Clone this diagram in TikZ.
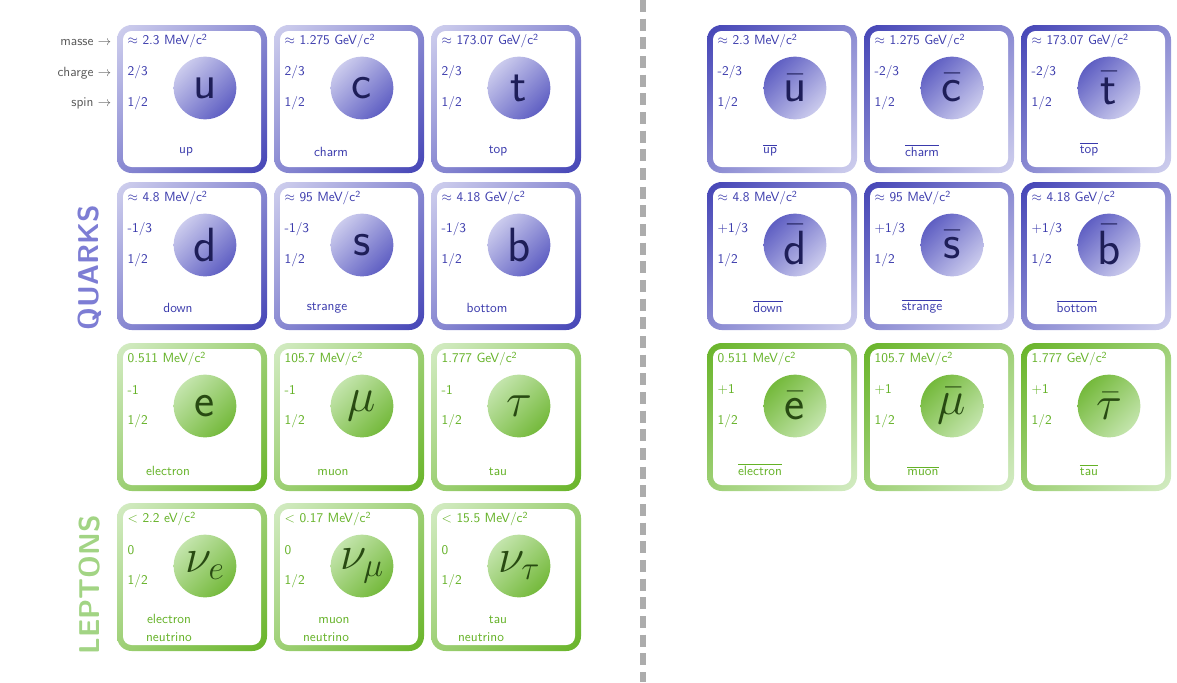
\RequirePackage{fix-cm}
\documentclass[tikz,border=0pt]{standalone}
\usetikzlibrary{shadings}

\definecolor{qlight}{RGB}{208,208,238}
\definecolor{qdark}{RGB}{68,68,182}
\colorlet{qmid}{qlight!50!qdark}
\definecolor{qtext}{RGB}{58,58,172}
\definecolor{qsym}{RGB}{30,30,88}
\definecolor{qballlight}{RGB}{226,226,246}
\definecolor{qballdark}{RGB}{72,72,186}
\colorlet{qballmid}{qballlight!50!qballdark}
\definecolor{qlabel}{RGB}{125,125,212}

\definecolor{llight}{RGB}{212,236,196}
\definecolor{ldark}{RGB}{104,180,40}
\colorlet{lmid}{llight!50!ldark}
\definecolor{ltext}{RGB}{100,178,38}
\definecolor{lsym}{RGB}{40,74,18}
\definecolor{lballlight}{RGB}{212,238,196}
\definecolor{lballdark}{RGB}{100,176,36}
\colorlet{lballmid}{lballlight!50!lballdark}
\definecolor{llabel}{RGB}{162,212,132}

\definecolor{sidegray}{RGB}{88,88,88}
\definecolor{dashgray}{RGB}{172,172,172}

\newcommand{\csq}{c\textsuperscript{2}}

% card of a particle: x, y, scheme, mass, charge, symbol, name
\newcommand{\partcard}[7]{%
  \shade[upper left=#3light, lower right=#3dark, upper right=#3mid, lower left=#3mid,
    rounded corners=11pt] (#1,#2) rectangle ++(150,148);
  \fill[white, rounded corners=6.5pt] ({#1+6},{#2+6}) rectangle ++(138,136);
  \node[anchor=west, text=#3text] (#7-mass) at ({#1+6},{#2+16}) {#4};
  \node[anchor=west, text=#3text] (#7-charge) at ({#1+6},{#2+47}) {#5};
  \node[anchor=west, text=#3text] (#7-spin) at ({#1+6},{#2+78}) {1/2};
  \node[ball, text=#3sym, upper left=#3balllight, lower right=#3balldark,
    upper right=#3ballmid, lower left=#3ballmid] (#7) at ({#1+88},{#2+63}) {#6};
}

% card of an antiparticle: same arguments, shading turned round
\newcommand{\anticard}[7]{%
  \shade[upper left=#3dark, lower right=#3light, upper right=#3mid, lower left=#3mid,
    rounded corners=11pt] (#1,#2) rectangle ++(150,148);
  \fill[white, rounded corners=6.5pt] ({#1+6},{#2+6}) rectangle ++(138,136);
  \node[anchor=west, text=#3text] (#7-mass) at ({#1+6},{#2+16}) {#4};
  \node[anchor=west, text=#3text] (#7-charge) at ({#1+6},{#2+47}) {#5};
  \node[anchor=west, text=#3text] (#7-spin) at ({#1+6},{#2+78}) {1/2};
  \node[ball, text=#3sym, upper left=#3balldark, lower right=#3balllight,
    upper right=#3ballmid, lower left=#3ballmid] (#7) at ({#1+88},{#2+63}) {#6};
}

\begin{document}
\begin{tikzpicture}[x=0.75pt, y=-0.75pt,
    every node/.style={font=\sffamily\fontsize{10}{12}\selectfont}]
  \tikzstyle{ball}=[circle, shade, minimum size=47pt, inner sep=0pt,
    font=\sffamily\fontsize{36}{36}\selectfont]
  \tikzstyle{pname}=[anchor=base]
  \tikzstyle{family}=[rotate=90, font=\sffamily\bfseries\fontsize{21.5}{22}\selectfont]
  \useasboundingbox (0,0) rectangle (1177,682);

  % particles
  \partcard{117}{25}{q}{$\approx$ 2.3 MeV/\csq}{2/3}{u}{up}
  \partcard{274}{25}{q}{$\approx$ 1.275 GeV/\csq}{2/3}{c}{charm}
  \partcard{431}{25}{q}{$\approx$ 173.07 GeV/\csq}{2/3}{t}{top}
  \partcard{117}{182}{q}{$\approx$ 4.8 MeV/\csq}{-1/3}{d}{down}
  \partcard{274}{182}{q}{$\approx$ 95 MeV/\csq}{-1/3}{s}{strange}
  \partcard{431}{182}{q}{$\approx$ 4.18 GeV/\csq}{-1/3}{b}{bottom}
  \partcard{117}{343}{l}{0.511 MeV/\csq}{-1}{e}{electron}
  \partcard{274}{343}{l}{105.7 MeV/\csq}{-1}{$\mu$}{muon}
  \partcard{431}{343}{l}{1.777 GeV/\csq}{-1}{$\tau$}{tau}
  \partcard{117}{503}{l}{$<$ 2.2 eV/\csq}{0}{$\nu_e$}{nue}
  \partcard{274}{503}{l}{$<$ 0.17 MeV/\csq}{0}{$\nu_\mu$}{numu}
  \partcard{431}{503}{l}{$<$ 15.5 MeV/\csq}{0}{$\nu_\tau$}{nutau}

  \node[pname, text=qtext] (up-name) at (186,153) {up};
  \node[pname, text=qtext] (charm-name) at (331,156) {charm};
  \node[pname, text=qtext] (top-name) at (498,153) {top};
  \node[pname, text=qtext] (down-name) at (178,312) {down};
  \node[pname, text=qtext] (strange-name) at (327,310) {strange};
  \node[pname, text=qtext] (bottom-name) at (487,312) {bottom};
  \node[pname, text=ltext] (electron-name) at (168,475) {electron};
  \node[pname, text=ltext] (muon-name) at (333,475) {muon};
  \node[pname, text=ltext] (tau-name) at (498,475) {tau};
  \node[pname, text=ltext] (nue-name) at (169,623) {electron};
  \node[pname, text=ltext] (nue-name2) at (169,641) {neutrino};
  \node[pname, text=ltext] (numu-name) at (334,623) {muon};
  \node[pname, text=ltext] (numu-name2) at (326,641) {neutrino};
  \node[pname, text=ltext] (nutau-name) at (498,623) {tau};
  \node[pname, text=ltext] (nutau-name2) at (481,641) {neutrino};

  % antiparticles
  \anticard{707}{25}{q}{$\approx$ 2.3 MeV/\csq}{-2/3}{$\bar{\mbox{u}}$}{aup}
  \anticard{864}{25}{q}{$\approx$ 1.275 GeV/\csq}{-2/3}{$\bar{\mbox{c}}$}{acharm}
  \anticard{1021}{25}{q}{$\approx$ 173.07 GeV/\csq}{-2/3}{$\bar{\mbox{t}}$}{atop}
  \anticard{707}{182}{q}{$\approx$ 4.8 MeV/\csq}{+1/3}{$\bar{\mbox{d}}$}{adown}
  \anticard{864}{182}{q}{$\approx$ 95 MeV/\csq}{+1/3}{$\bar{\mbox{s}}$}{astrange}
  \anticard{1021}{182}{q}{$\approx$ 4.18 GeV/\csq}{+1/3}{$\bar{\mbox{b}}$}{abottom}
  \anticard{707}{343}{l}{0.511 MeV/\csq}{+1}{$\bar{\mbox{e}}$}{aelectron}
  \anticard{864}{343}{l}{105.7 MeV/\csq}{+1}{$\bar{\mu}$}{amuon}
  \anticard{1021}{343}{l}{1.777 GeV/\csq}{+1}{$\bar{\tau}$}{atau}

  \node[pname, text=qtext] (aup-name) at (770,153) {$\overline{\mbox{up}}$};
  \node[pname, text=qtext] (acharm-name) at (922,156) {$\overline{\mbox{charm}}$};
  \node[pname, text=qtext] (atop-name) at (1089,153) {$\overline{\mbox{top}}$};
  \node[pname, text=qtext] (adown-name) at (768,312) {$\overline{\mbox{down}}$};
  \node[pname, text=qtext] (astrange-name) at (922,310) {$\overline{\mbox{strange}}$};
  \node[pname, text=qtext] (abottom-name) at (1077,312) {$\overline{\mbox{bottom}}$};
  \node[pname, text=ltext] (aelectron-name) at (760,475) {$\overline{\mbox{electron}}$};
  \node[pname, text=ltext] (amuon-name) at (923,475) {$\overline{\mbox{muon}}$};
  \node[pname, text=ltext] (atau-name) at (1089,475) {$\overline{\mbox{tau}}$};

  % side labels
  \node[anchor=east, text=sidegray] (masse) at (116,42) {masse $\rightarrow$};
  \node[anchor=east, text=sidegray] (charge) at (116,73) {charge $\rightarrow$};
  \node[anchor=east, text=sidegray] (spin) at (116,103) {spin $\rightarrow$};
  \node[family, text=qlabel] (quarks) at (90,268) {QUARKS};
  \node[family, text=llabel] (leptons) at (90,585) {LEPTONS};

  % separation
  \draw[dashgray, line width=4pt, dash pattern=on 9pt off 5pt] (643,0) -- (643,682);
\end{tikzpicture}
\end{document}
